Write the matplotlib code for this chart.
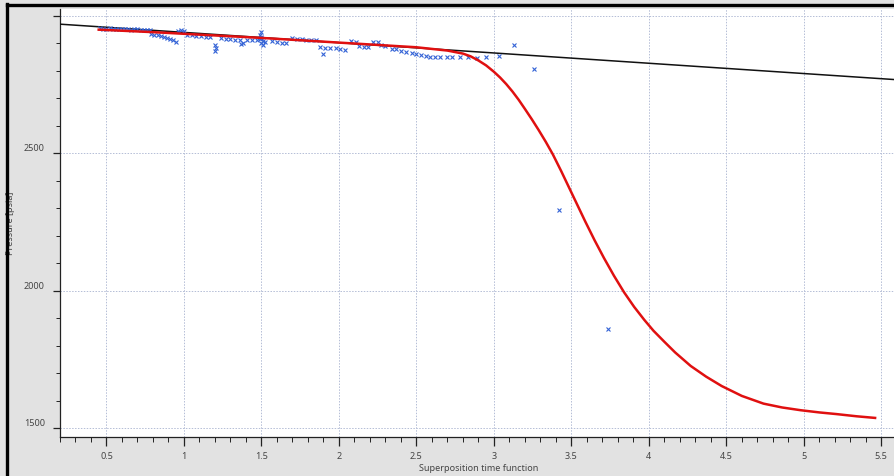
import matplotlib
matplotlib.use("Agg")
import matplotlib.pyplot as plt
from matplotlib.lines import Line2D
from matplotlib.ticker import MultipleLocator, FuncFormatter

plt.rcParams['font.family'] = ['Noto Sans', 'DejaVu Sans']

# measured points (blue crosses)
t_meas = [0.46, 0.48, 0.50, 0.52, 0.54, 0.56, 0.58, 0.60, 0.62, 0.64, 0.66, 0.68, 0.70, 0.72, 0.74, 0.76, 0.78,
          0.79, 0.81, 0.83, 0.85, 0.87, 0.89, 0.91, 0.93, 0.95,
          0.96, 0.98, 1.00,
          1.02, 1.05, 1.08, 1.11, 1.14, 1.17,
          1.20, 1.20, 1.21,
          1.24, 1.27, 1.30, 1.33, 1.36, 1.37, 1.38,
          1.41, 1.44, 1.47,
          1.49, 1.50, 1.50, 1.50, 1.51, 1.49, 1.52, 1.50, 1.51,
          1.57, 1.60, 1.63, 1.66,
          1.70, 1.73, 1.76, 1.79, 1.82, 1.85,
          1.88, 1.91, 1.94, 1.90,
          1.98, 2.01, 2.04,
          2.08, 2.11,
          2.13, 2.16, 2.19,
          2.22, 2.25,
          2.27, 2.30,
          2.34, 2.37, 2.40, 2.43,
          2.47, 2.50, 2.53, 2.56,
          2.59, 2.62, 2.65, 2.70, 2.73, 2.78, 2.83, 2.89, 2.95,
          3.03, 3.13, 3.26, 3.42, 3.735]
p_meas = [2955, 2954, 2953, 2955, 2952, 2954, 2953, 2951, 2952, 2953, 2950, 2951, 2952, 2950, 2949, 2950, 2948,
          2935, 2932, 2930, 2926, 2924, 2920, 2917, 2912, 2906,
          2946, 2947, 2945,
          2932, 2930, 2928, 2926, 2925, 2922,
          2896, 2872, 2885,
          2918, 2916, 2915, 2914, 2912, 2898, 2902,
          2914, 2912, 2911,
          2930, 2940, 2920, 2900, 2910, 2915, 2905, 2925, 2895,
          2908, 2905, 2902, 2900,
          2918, 2917, 2915, 2914, 2913, 2911,
          2886, 2884, 2885, 2862,
          2885, 2880, 2876,
          2910, 2906,
          2892, 2888, 2886,
          2906, 2904,
          2896, 2892,
          2880, 2878, 2874, 2870,
          2864, 2862, 2858, 2855,
          2851, 2851, 2850, 2850, 2850, 2849, 2850, 2848, 2852,
          2855, 2895, 2807, 2293, 1860]

# model curve (red)
t_model = [0.45, 0.8, 1.0, 1.5, 2.0, 2.5, 2.7, 2.8, 2.85, 2.9, 2.95, 3.0, 3.04, 3.08, 3.12, 3.16, 3.2, 3.245,
           3.29, 3.335, 3.38, 3.435, 3.49, 3.54, 3.59, 3.65, 3.71, 3.775, 3.84, 3.905, 3.97, 4.03, 4.1,
           4.17, 4.27, 4.37, 4.47, 4.6, 4.74, 4.86, 4.98, 5.1, 5.21, 5.34, 5.46]
p_model = [2950, 2941, 2935, 2920, 2903, 2886, 2874, 2863, 2853, 2838, 2820, 2797, 2776, 2752, 2725, 2695, 2662, 2624,
           2584, 2542, 2497, 2435, 2370, 2311, 2252, 2184, 2120, 2055, 1995, 1942, 1895, 1855, 1815,
           1776, 1727, 1688, 1654, 1618, 1590, 1576, 1566, 1558, 1552, 1544, 1538]

# straight-line trend (black)
t_trend = [0.2, 5.6]
p_trend = [2970, 2768]

fig = plt.figure(figsize=(8.95, 4.76), dpi=100, facecolor='#e2e2e2')
ax = fig.add_axes([0.067, 0.081, 0.935, 0.900])
ax.set_facecolor('white')

ax.plot(t_trend, p_trend, color='#111111', lw=1.1, zorder=3)
ax.plot(t_meas, p_meas, ls='none', marker='x', ms=3.0, mew=0.8, color='#3463d6', zorder=4)
ax.plot(t_model, p_model, color='#e01010', lw=1.8, zorder=5)

ax.set_xlim(0.2, 5.6)
ax.set_ylim(1467, 3025)

ax.xaxis.set_major_locator(MultipleLocator(0.5))
ax.xaxis.set_minor_locator(MultipleLocator(0.1))
ax.yaxis.set_major_locator(MultipleLocator(500))
ax.yaxis.set_minor_locator(MultipleLocator(100))
ax.xaxis.set_major_formatter(FuncFormatter(lambda v, p: '%g' % v))
ax.yaxis.set_major_formatter(FuncFormatter(lambda v, p: '' if v >= 3000 else '%g' % v))

ax.grid(True, which='major', color='#b4bdd6', lw=0.7, ls=(0, (1.5, 1.5)))
for s in ['top', 'right']:
    ax.spines[s].set_visible(False)
for s in ['left', 'bottom']:
    ax.spines[s].set_color('#222222')
    ax.spines[s].set_linewidth(0.9)

ax.tick_params(axis='x', which='major', length=6.5, width=0.9, color='#222222',
               labelsize=6.5, labelcolor='#444444', pad=4)
ax.tick_params(axis='x', which='minor', length=3.5, width=0.7, color='#222222')
ax.tick_params(axis='y', which='major', length=5, width=0.9, color='#222222',
               labelsize=6.5, labelcolor='#444444', pad=6)
ax.tick_params(axis='y', which='minor', length=3, width=0.7, color='#222222')
for lab in ax.get_yticklabels():
    lab.set_va('bottom')

ax.set_xlabel('Superposition time function', fontsize=6.5, color='#444444', labelpad=2)
ax.set_ylabel('Pressure [psia]', fontsize=6.5, color='#444444')
ax.yaxis.set_label_coords(-0.054, 0.5)

# dark window frame on left and top
fig.add_artist(Line2D([0.0073, 0.0073], [0.0, 0.991], color='black', lw=2.4))
fig.add_artist(Line2D([0.0073, 1.0], [0.9885, 0.9885], color='black', lw=2.4))

fig.savefig('out.png', dpi=100, facecolor=fig.get_facecolor())
